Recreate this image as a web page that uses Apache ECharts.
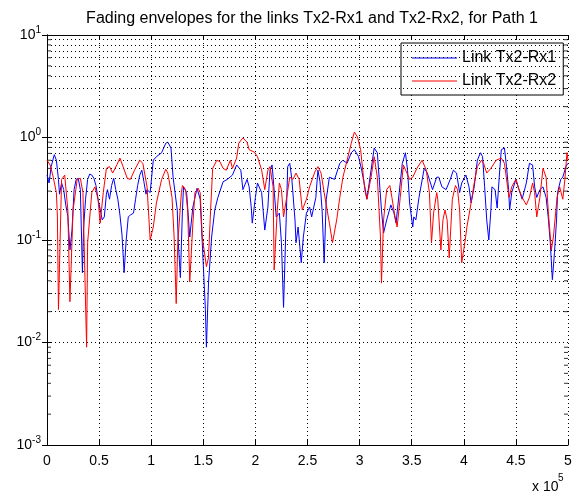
<!DOCTYPE html>
<html>
<head>
<meta charset="utf-8">
<script src="https://cdn.jsdelivr.net/npm/echarts@6/dist/echarts.min.js"></script>
<style>
  html, body { margin: 0; padding: 0; background: #fff; }
  #fading { width: 577px; height: 498px; }
</style>
</head>
<body>
<div id="fading"></div>
<script>
// x values are in units of 1e5 (the axis shows "x 10^5")
const xTicks = [0, 0.5, 1, 1.5, 2, 2.5, 3, 3.5, 4, 4.5, 5];
const yDecades = [0.001, 0.01, 0.1, 1, 10];
const seriesNames = ["Link Tx2-Rx1", "Link Tx2-Rx2"];

// Link Tx2-Rx1 (blue)
const link1 = [
  [0, 0.43], [0.02, 0.36], [0.04, 0.52], [0.07, 0.68], [0.09, 0.60], [0.11, 0.39], [0.12, 0.28],
  [0.14, 0.36], [0.16, 0.31], [0.18, 0.22], [0.20, 0.17], [0.22, 0.080], [0.24, 0.125], [0.26, 0.31],
  [0.28, 0.39], [0.30, 0.40], [0.32, 0.31], [0.34, 0.048], [0.35, 0.125], [0.37, 0.25], [0.39, 0.39],
  [0.41, 0.44], [0.43, 0.43], [0.45, 0.40], [0.47, 0.34], [0.49, 0.25], [0.51, 0.20], [0.53, 0.157],
  [0.55, 0.168], [0.57, 0.28], [0.58, 0.31], [0.60, 0.25], [0.62, 0.34], [0.64, 0.40], [0.66, 0.31],
  [0.68, 0.25], [0.70, 0.175], [0.72, 0.112], [0.74, 0.048], [0.76, 0.10], [0.78, 0.168], [0.80, 0.175],
  [0.83, 0.183], [0.85, 0.25], [0.87, 0.34], [0.89, 0.43], [0.91, 0.48], [0.93, 0.37], [0.95, 0.28],
  [0.96, 0.31], [0.99, 0.29], [1.02, 0.60], [1.05, 0.65], [1.10, 0.71], [1.14, 0.88], [1.16, 0.90],
  [1.19, 0.79], [1.21, 0.41], [1.25, 0.196], [1.26, 0.094], [1.28, 0.043], [1.30, 0.196], [1.31, 0.33],
  [1.34, 0.29], [1.37, 0.107], [1.40, 0.21], [1.44, 0.32], [1.47, 0.25], [1.49, 0.094], [1.52, 0.021],
  [1.53, 0.009], [1.55, 0.038], [1.58, 0.107], [1.61, 0.196], [1.64, 0.26], [1.69, 0.37], [1.73, 0.39],
  [1.78, 0.43], [1.82, 0.54], [1.86, 0.48], [1.88, 0.31], [1.92, 0.39], [1.94, 0.33], [1.96, 0.21],
  [1.97, 0.146], [2.00, 0.26], [2.02, 0.36], [2.06, 0.29], [2.09, 0.125], [2.12, 0.21], [2.14, 0.48],
  [2.16, 0.54], [2.17, 0.41], [2.20, 0.168], [2.23, 0.183], [2.25, 0.094], [2.27, 0.022], [2.30, 0.23],
  [2.31, 0.52], [2.33, 0.56], [2.35, 0.39], [2.38, 0.157], [2.39, 0.094], [2.41, 0.134], [2.44, 0.060],
  [2.46, 0.107], [2.49, 0.183], [2.52, 0.21], [2.54, 0.168], [2.58, 0.26], [2.60, 0.48], [2.62, 0.37],
  [2.64, 0.196], [2.66, 0.060], [2.68, 0.25], [2.71, 0.41], [2.76, 0.39], [2.81, 0.56], [2.84, 0.60],
  [2.88, 0.56], [2.92, 0.71], [2.95, 0.76], [2.99, 0.65], [3.02, 0.48], [3.05, 0.33], [3.07, 0.25],
  [3.14, 0.79], [3.17, 0.71], [3.21, 0.196], [3.23, 0.117], [3.26, 0.157], [3.30, 0.22], [3.33, 0.183],
  [3.35, 0.146], [3.38, 0.29], [3.41, 0.56], [3.44, 0.71], [3.46, 0.48], [3.48, 0.23], [3.51, 0.134],
  [3.52, 0.168], [3.54, 0.157], [3.57, 0.26], [3.62, 0.50], [3.65, 0.45], [3.70, 0.31], [3.74, 0.41],
  [3.76, 0.41], [3.79, 0.33], [3.83, 0.31], [3.87, 0.39], [3.90, 0.48], [3.93, 0.45], [3.96, 0.29],
  [3.98, 0.36], [4.02, 0.43], [4.05, 0.33], [4.07, 0.23], [4.10, 0.33], [4.13, 0.60], [4.16, 0.71],
  [4.18, 0.65], [4.20, 0.33], [4.22, 0.157], [4.24, 0.10], [4.26, 0.196], [4.27, 0.33], [4.30, 0.31],
  [4.32, 0.205], [4.34, 0.41], [4.36, 0.76], [4.39, 0.79], [4.41, 0.52], [4.43, 0.31], [4.44, 0.196],
  [4.46, 0.29], [4.50, 0.39], [4.53, 0.31], [4.56, 0.25], [4.60, 0.36], [4.63, 0.56], [4.66, 0.54],
  [4.68, 0.33], [4.70, 0.26], [4.73, 0.31], [4.76, 0.33], [4.79, 0.26], [4.81, 0.168], [4.83, 0.094],
  [4.85, 0.041], [4.87, 0.075], [4.89, 0.157], [4.90, 0.29], [4.93, 0.39], [4.95, 0.41], [4.98, 0.52],
  [5.00, 0.56]
];

// Link Tx2-Rx2 (red)
const link2 = [
  [0, 0.60], [0.01, 0.60], [0.03, 0.54], [0.06, 0.41], [0.09, 0.29], [0.10, 0.168], [0.11, 0.021],
  [0.14, 0.39], [0.17, 0.43], [0.20, 0.196], [0.22, 0.025], [0.25, 0.196], [0.29, 0.39], [0.32, 0.40],
  [0.345, 0.29], [0.38, 0.009], [0.39, 0.094], [0.43, 0.29], [0.46, 0.33], [0.49, 0.25], [0.51, 0.146],
  [0.54, 0.29], [0.57, 0.50], [0.60, 0.52], [0.63, 0.45], [0.67, 0.54], [0.70, 0.63], [0.73, 0.52],
  [0.77, 0.40], [0.80, 0.39], [0.84, 0.48], [0.89, 0.60], [0.92, 0.56], [0.96, 0.33], [0.99, 0.10],
  [1.02, 0.134], [1.05, 0.23], [1.10, 0.39], [1.14, 0.49], [1.16, 0.45], [1.20, 0.26], [1.22, 0.107],
  [1.24, 0.024], [1.255, 0.094], [1.29, 0.29], [1.30, 0.34], [1.33, 0.31], [1.35, 0.196], [1.37, 0.039],
  [1.40, 0.146], [1.42, 0.29], [1.45, 0.32], [1.47, 0.29], [1.49, 0.107], [1.53, 0.055], [1.55, 0.067],
  [1.57, 0.196], [1.59, 0.50], [1.63, 0.60], [1.66, 0.58], [1.69, 0.50], [1.72, 0.48], [1.76, 0.60],
  [1.78, 0.50], [1.82, 0.63], [1.84, 0.88], [1.88, 0.99], [1.92, 0.90], [1.94, 0.76], [1.99, 0.72],
  [2.02, 0.65], [2.06, 0.48], [2.09, 0.31], [2.12, 0.48], [2.14, 0.52], [2.17, 0.33], [2.18, 0.051],
  [2.21, 0.196], [2.23, 0.36], [2.25, 0.31], [2.27, 0.168], [2.30, 0.26], [2.33, 0.41], [2.36, 0.39],
  [2.39, 0.45], [2.42, 0.39], [2.45, 0.196], [2.49, 0.25], [2.52, 0.33], [2.57, 0.46], [2.60, 0.52],
  [2.63, 0.45], [2.66, 0.29], [2.71, 0.146], [2.74, 0.094], [2.78, 0.157], [2.81, 0.26], [2.84, 0.41],
  [2.88, 0.60], [2.92, 0.88], [2.95, 1.13], [2.98, 1.01], [3.01, 0.76], [3.02, 0.60], [3.05, 0.31],
  [3.07, 0.25], [3.11, 0.41], [3.14, 0.65], [3.17, 0.41], [3.20, 0.107], [3.21, 0.038], [3.23, 0.157],
  [3.26, 0.31], [3.29, 0.34], [3.31, 0.26], [3.34, 0.168], [3.36, 0.134], [3.39, 0.26], [3.42, 0.54],
  [3.45, 0.46], [3.48, 0.39], [3.51, 0.41], [3.55, 0.50], [3.60, 0.60], [3.64, 0.48], [3.67, 0.29],
  [3.69, 0.094], [3.71, 0.183], [3.74, 0.29], [3.75, 0.25], [3.78, 0.080], [3.80, 0.157], [3.82, 0.196],
  [3.84, 0.157], [3.86, 0.067], [3.89, 0.25], [3.92, 0.34], [3.94, 0.31], [3.96, 0.196], [3.98, 0.060],
  [4.01, 0.094], [4.03, 0.134], [4.07, 0.23], [4.10, 0.36], [4.13, 0.52], [4.17, 0.60], [4.19, 0.56],
  [4.22, 0.45], [4.26, 0.50], [4.31, 0.60], [4.36, 0.63], [4.39, 0.56], [4.42, 0.33], [4.435, 0.26],
  [4.46, 0.33], [4.50, 0.39], [4.53, 0.31], [4.56, 0.26], [4.60, 0.22], [4.63, 0.26], [4.66, 0.36],
  [4.68, 0.29], [4.70, 0.168], [4.73, 0.26], [4.76, 0.50], [4.79, 0.41], [4.81, 0.196], [4.84, 0.080],
  [4.86, 0.107], [4.895, 0.26], [4.92, 0.33], [4.95, 0.25], [4.97, 0.39], [4.99, 0.71], [5.00, 0.60]
];

// minor log grid lines: 2..9 inside each decade
const minorTicks = [];
yDecades.slice(0, -1).forEach(function (d) {
  for (let k = 2; k <= 9; k++) minorTicks.push(+(k * d).toPrecision(3));
});

const FONT = "Liberation Sans, Arial, sans-serif";
const dotted = { color: "#000", width: 1, type: [1, 3] };

let fadingChart = echarts.init(document.getElementById("fading"));
let fadingOption = {
  animation: false,
  backgroundColor: "#fff",
  title: {
    text: "Fading envelopes for the links Tx2-Rx1 and Tx2-Rx2, for Path 1",
    left: 307,
    textAlign: "center",
    top: 6,
    textStyle: { fontFamily: FONT, fontSize: 16, fontWeight: "normal", color: "#000" }
  },
  legend: {
    data: seriesNames,
    orient: "vertical",
    left: 401,
    top: 43,
    icon: "rect",
    backgroundColor: "#fff",
    borderColor: "#000",
    borderWidth: 1,
    borderRadius: 0,
    padding: [7, 7, 6, 11],
    itemWidth: 45,
    itemHeight: 1,
    itemGap: 7,
    textStyle: { fontFamily: FONT, fontSize: 16, lineHeight: 15, color: "#000" }
  },
  grid: { left: 47, right: 9, top: 35, bottom: 53 },
  xAxis: [
    {
      type: "value",
      min: 0,
      max: 5,
      interval: 0.5,
      position: "bottom",
      axisLine: { lineStyle: { color: "#000", width: 1 } },
      axisTick: { inside: true, length: 5, lineStyle: { color: "#000" } },
      axisLabel: { fontFamily: FONT, fontSize: 14, color: "#000", margin: 9 },
      splitLine: { show: true, lineStyle: dotted }
    },
    {
      type: "value",
      min: 0,
      max: 5,
      interval: 0.5,
      position: "top",
      axisLine: { show: true, lineStyle: { color: "#000", width: 1 } },
      axisTick: { inside: true, length: 5, lineStyle: { color: "#000" } },
      axisLabel: { show: false },
      splitLine: { show: false }
    }
  ],
  yAxis: [
    {
      type: "log",
      logBase: 10,
      min: 0.001,
      max: 10,
      position: "left",
      axisLine: { show: true, lineStyle: { color: "#000", width: 1 } },
      axisTick: { show: true, inside: true, length: 5, lineStyle: { color: "#000" } },
      axisLabel: {
        margin: 6,
        padding: [0, 0, 6, 0],
        formatter: function (v) {
          return "{b|10}{s|" + Math.round(Math.log10(v)) + "}";
        },
        rich: {
          b: { fontFamily: FONT, fontSize: 14, lineHeight: 14, color: "#000", padding: [6, 0, 0, 0] },
          s: { fontFamily: FONT, fontSize: 10, lineHeight: 10, color: "#000", verticalAlign: "top" }
        }
      },
      splitLine: { show: true, lineStyle: dotted }
    },
    {
      type: "log",
      logBase: 10,
      min: 0.001,
      max: 10,
      position: "right",
      axisLine: { show: true, lineStyle: { color: "#000", width: 1 } },
      axisTick: { show: true, inside: true, length: 5, lineStyle: { color: "#000" } },
      axisLabel: { show: false },
      splitLine: { show: false }
    }
  ],
  graphic: [
    { type: "text", left: 532, top: 480, style: { text: "x 10", font: "14px " + FONT, fill: "#000" } },
    { type: "text", left: 558, top: 473, style: { text: "5", font: "10px " + FONT, fill: "#000" } }
  ],
  series: [
    {
      name: "minorGrid",
      type: "line",
      data: [],
      z: 1,
      silent: true,
      markLine: {
        silent: true,
        symbol: ["none", "none"],
        label: { show: false },
        lineStyle: dotted,
        data: minorTicks.map(function (v) { return { yAxis: v }; })
      }
    },
    {
      name: "minorTicks",
      type: "scatter",
      z: 3,
      silent: true,
      symbol: "rect",
      symbolSize: [4, 1],
      itemStyle: { color: "#000" },
      data: minorTicks.map(function (v) { return { value: [0, v], symbolOffset: [2, 0] }; })
        .concat(minorTicks.map(function (v) { return { value: [5, v], symbolOffset: [-2, 0] }; }))
    },
    {
      name: seriesNames[0],
      type: "line",
      symbol: "none",
      z: 4,
      lineStyle: { color: "#0000ff", width: 1 },
      itemStyle: { color: "#0000ff" },
      data: link1
    },
    {
      name: seriesNames[1],
      type: "line",
      symbol: "none",
      z: 5,
      lineStyle: { color: "#ff0000", width: 1 },
      itemStyle: { color: "#ff0000" },
      data: link2
    }
  ]
};
fadingChart.setOption(fadingOption);
</script>
</body>
</html>
